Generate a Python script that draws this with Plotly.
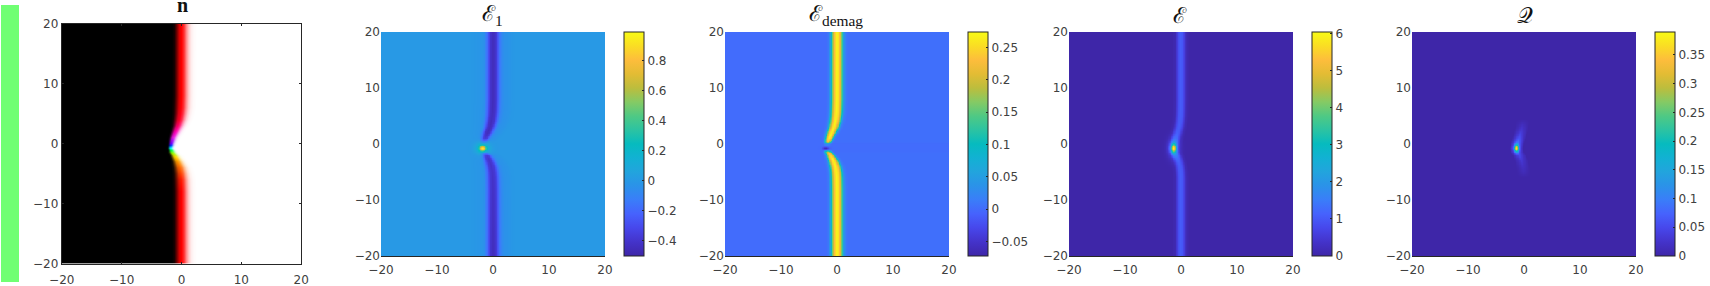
import numpy as np
import plotly.graph_objects as go

W, H = 1710, 286

# --- values ---
axis_ticks = [-20, -10, 0, 10, 20]

# wall track, by row
row_y = [20, 8, 6, 5, 4, 3, 2, 1, 0, -0.75, -1.5, -2, -3, -4, -5, -6, -8, -20]
wall_x = [0, -0.02, -0.08, -0.16, -0.32, -0.58, -1.0, -1.42, -1.72, -1.85, -1.55, -1.15, -0.65, -0.3, -0.13, -0.06, -0.02, 0]
wall_x_energy = [-0.05, -0.05, -0.08, -0.12, -0.22, -0.38, -0.65, -0.95, -1.2, -1.35, -1.2, -0.85, -0.45, -0.22, -0.1, -0.05, -0.05, -0.05]

# wall narrows towards the core, by row
taper_y = [20, 6, 4, 2, 1, 0, -0.75, -1.5, -2.5, -4, -6, -20]
taper = [1, 1, 0.95, 0.8, 0.65, 0.5, 0.5, 0.6, 0.8, 0.95, 1, 1]

# n panel: black -> wall colour -> white, across the wall
n_offset = [-3, -1.6, -1.2, -0.8, -0.4, 0, 0.4, 0.8, 1.2, 1.6, 2, 2.5, 3]
n_level = [0, 0, 0.1, 0.45, 0.85, 1.0, 1.2, 1.55, 1.8, 1.93, 1.98, 2, 2]
n_width_y = [20, 6, 4, 2, 0, -0.75, -2, -4, -6, -20]
n_width = [1, 1, 0.9, 0.65, 0.42, 0.35, 0.6, 0.9, 1, 1]
tint_y = [20, 8, 6, 4, 3, 2, 1, 0, -0.3, -0.75, -1.1, -1.6, -2.2, -3, -4, -6, -8, -20]
tint_r = [1, 1, 1, 1, 1, 1, 0.9, 0.4, 0, 0, 0, 0.6, 1, 1, 1, 1, 1, 1]
tint_g = [0, 0, 0, 0, 0, 0, 0.1, 0, 0.2, 1, 1, 1, 0.85, 0.6, 0.4, 0.1, 0, 0]
tint_b = [0, 0, 0.03, 0.15, 0.4, 0.7, 0.9, 1, 1, 1, 0.3, 0, 0, 0, 0, 0, 0, 0]

# E1 panel
e1_offset = [-4, -3, -2, -1.5, -1, -0.5, 0, 0.5, 1, 1.5, 2, 3, 3.5, 4]
e1_values = [0, -0.01, -0.02, -0.05, -0.2, -0.4, -0.45, -0.4, -0.22, -0.08, -0.04, -0.02, -0.005, 0]
e1_strength_y = [20, 2, 1, 0.3, -0.75, -1.4, -2, -20]
e1_strength = [1, 1, 0.85, 0.3, 0, 0.3, 0.9, 1]
e1_range = [-0.50, 0.99]
e1_ticks = [-0.4, -0.2, 0, 0.2, 0.4, 0.6, 0.8]
e1_spots = [(-1.85, -0.77, 0.72, 0.36, 0.36), (-1.85, -0.77, 0.28, 0.85, 0.7)]

# demag panel
dm_offset = [-2, -1.5, -1.2, -1, -0.7, -0.3, 0, 0.3, 0.7, 1, 1.2, 1.5, 2]
dm_values = [0, 0.01, 0.05, 0.11, 0.19, 0.25, 0.27, 0.25, 0.19, 0.11, 0.05, 0.012, 0.003]
dm_strength_y = [20, 1, 0.4, 0, -0.75, -1.1, -1.5, -2.5, -20]
dm_strength = [1, 1, 0.85, 0.1, 0, 0.1, 0.85, 1, 1]
dm_range = [-0.0727, 0.274]
dm_ticks = [-0.05, 0, 0.05, 0.1, 0.15, 0.2, 0.25]
dm_spots = [(-2.0, -0.75, -0.07, 0.4, 0.2)]

# total energy panel
en_offset = [-1.5, -1, -0.7, -0.3, 0, 0.3, 0.7, 1, 1.5]
en_values = [0, 0.1, 0.5, 0.95, 1.05, 0.95, 0.5, 0.15, 0]
en_strength_y = [20, -20]
en_strength = [1, 1]
en_range = [0, 6.05]
en_ticks = [0, 1, 2, 3, 4, 5, 6]
en_spots = [(-1.33, -0.75, 3.9, 0.28, 0.5), (-1.33, -0.75, 1.1, 0.7, 1.2)]

# charge panel
q_offset = [-1.2, -0.6, 0, 0.6, 1.2]
q_values = [0, 0.5, 1, 0.5, 0]
q_strength_y = [20, 4.5, 3.5, 2.5, 1.5, 0.5, -0.75, -2, -3, -4, -5, -6, -20]
q_strength = [0, 0, 0.015, 0.03, 0.05, 0.08, 0.1, 0.05, 0.03, 0.02, 0.012, 0, 0]
q_range = [0, 0.39]
q_ticks = [0, 0.05, 0.1, 0.15, 0.2, 0.25, 0.3, 0.35]
q_spots = [(-1.38, -0.75, 0.29, 0.26, 0.45)]

parula_pos = [0, 0.0625, 0.125, 0.1875, 0.25, 0.3125, 0.375, 0.4375, 0.5, 0.5625, 0.625, 0.6875, 0.75, 0.8125, 0.875, 0.9375, 1]
parula_col = ["#3e26a8", "#4433ca", "#4747eb", "#4662fd", "#3a7df9", "#2b92e9", "#22a4dd", "#12b1d3",
              "#06bbbf", "#2cc3a2", "#4fc984", "#85ca64", "#bcbd3d", "#e3bc34", "#fdbd3c", "#fadd24", "#f9fb15"]
parula = [[p, c] for p, c in zip(parula_pos, parula_col)]

strip_color = "#70ff73"
text_color = "#404040"
line_color = "#262626"


def px_x(v):
    return v / W


def px_y(v):
    return 1 - v / H


def build(xs, ys, track, offs, vals, sy, sv, spots, use_taper):
    xx, yy = np.meshgrid(xs, ys)
    cen = np.interp(yy, row_y[::-1], track[::-1])
    wid = np.interp(yy, taper_y[::-1], taper[::-1]) if use_taper else 1.0
    z = np.interp((xx - cen) / wid, offs, vals, left=vals[0], right=vals[-1])
    z = z * np.interp(yy, sy[::-1], sv[::-1])
    for cx, cy, a, sx_, sy_ in spots:
        z = z + a * np.exp(-((xx - cx) / sx_) ** 2 / 2 - ((yy - cy) / sy_) ** 2 / 2)
    return z


grid = np.linspace(-20, 20, 320)

# n image
xx, yy = np.meshgrid(np.linspace(-20, 20, 480), np.linspace(20, -20, 480))
cen = np.interp(yy, row_y[::-1], wall_x[::-1])
wid = np.interp(yy, n_width_y[::-1], n_width[::-1])
t = np.interp((xx - cen) / wid, n_offset, n_level)
rgb = []
for ch in (tint_r, tint_g, tint_b):
    c = np.interp(yy, tint_y[::-1], ch[::-1])
    rgb.append(np.where(t < 1, t * c, c + (t - 1) * (1 - c)))
img = np.clip(np.stack(rgb, axis=-1) * 255, 0, 255).astype(np.uint8)

panels = [
    dict(title="ℰ<sub>1</sub>", l=381, cb=623.5, track=wall_x, o=e1_offset, v=e1_values, sy=e1_strength_y, s=e1_strength,
         rng=e1_range, ticks=e1_ticks, spots=e1_spots, tx=492, tp=True),
    dict(title="ℰ<sub>demag</sub>", l=725, cb=967.5, track=wall_x, o=dm_offset, v=dm_values, sy=dm_strength_y, s=dm_strength,
         rng=dm_range, ticks=dm_ticks, spots=dm_spots, tx=836, tp=True),
    dict(title="ℰ", l=1069, cb=1311.5, track=wall_x_energy, o=en_offset, v=en_values, sy=en_strength_y, s=en_strength,
         rng=en_range, ticks=en_ticks, spots=en_spots, tx=1180, tp=False),
    dict(title="𝒬", l=1412, cb=1654.5, track=wall_x_energy, o=q_offset, v=q_values, sy=q_strength_y, s=q_strength,
         rng=q_range, ticks=q_ticks, spots=q_spots, tx=1525, tp=False),
]

fig = go.Figure()
tickfont = dict(family="DejaVu Sans", size=12, color=text_color)

fig.add_trace(go.Image(z=img, x0=-20, dx=40 / 480, y0=20, dy=-40 / 480, xaxis="x", yaxis="y", hoverinfo="skip"))
fig.update_layout(
    xaxis=dict(domain=[px_x(61.5), px_x(301.5)], range=[-20, 20], tickvals=axis_ticks, ticks="inside", ticklen=2,
               mirror="allticks", showline=True, linecolor=line_color, linewidth=1, tickcolor=line_color,
               tickfont=tickfont, showgrid=False, zeroline=False, anchor="y", ticklabelstandoff=5),
    yaxis=dict(domain=[px_y(263.5), px_y(24)], range=[-20, 20], tickvals=axis_ticks, ticks="inside", ticklen=2,
               mirror="allticks", showline=True, linecolor=line_color, linewidth=1, tickcolor=line_color,
               tickfont=tickfont, showgrid=False, zeroline=False, anchor="x", autorange=False),
)

for i, p in enumerate(panels, start=2):
    z = build(grid, grid, p["track"], p["o"], p["v"], p["sy"], p["s"], p["spots"], p["tp"])
    fig.add_trace(go.Heatmap(
        x=grid, y=grid, z=z, xaxis=f"x{i}", yaxis=f"y{i}", colorscale=parula, zmin=p["rng"][0], zmax=p["rng"][1],
        zsmooth=False, hoverinfo="skip",
        colorbar=dict(x=px_x(p["cb"]), xref="paper", xanchor="left", xpad=0, ypad=0, thicknessmode="pixels", thickness=20,
                      lenmode="fraction", len=224 / H, y=px_y(32), yref="paper", yanchor="top",
                      outlinewidth=1, outlinecolor=line_color, tickmode="array", tickvals=p["ticks"],
                      ticks="inside", ticklen=2, tickcolor=line_color, tickfont=tickfont),
    ))
    fig.layout[f"xaxis{i}"] = dict(domain=[px_x(p["l"]), px_x(p["l"] + 224)], range=[-20, 20], tickvals=axis_ticks, ticks="",
                                   showline=True, linecolor=line_color, linewidth=1, tickfont=tickfont, showgrid=False,
                                   zeroline=False, anchor=f"y{i}", ticklabelstandoff=3)
    fig.layout[f"yaxis{i}"] = dict(domain=[px_y(256), px_y(32)], range=[-20, 20], tickvals=axis_ticks, ticks="",
                                   showline=False, tickfont=tickfont, showgrid=False, zeroline=False, anchor=f"x{i}")
    fig.add_annotation(text=p["title"], xref="paper", yref="paper", x=px_x(p["tx"]), y=px_y(15), xanchor="center",
                       yanchor="middle", showarrow=False, font=dict(family="Liberation Serif", size=22, color="#111111"))

fig.add_annotation(text="<b>n</b>", xref="paper", yref="paper", x=px_x(182), y=px_y(5), xanchor="center", yanchor="middle",
                   showarrow=False, font=dict(family="Liberation Serif", size=20, color="#111111"))
fig.add_shape(type="rect", xref="paper", yref="paper", x0=px_x(1), x1=px_x(19), y0=px_y(282), y1=px_y(5),
              fillcolor=strip_color, line_width=0, layer="below")

fig.update_layout(width=W, height=H, margin=dict(l=0, r=0, t=0, b=0, autoexpand=False), paper_bgcolor="white",
                  plot_bgcolor="white", showlegend=False)
fig.write_html("out.html", config={"displayModeBar": False},
               post_script="document.body.style.margin='0';document.documentElement.style.overflow='hidden';")
